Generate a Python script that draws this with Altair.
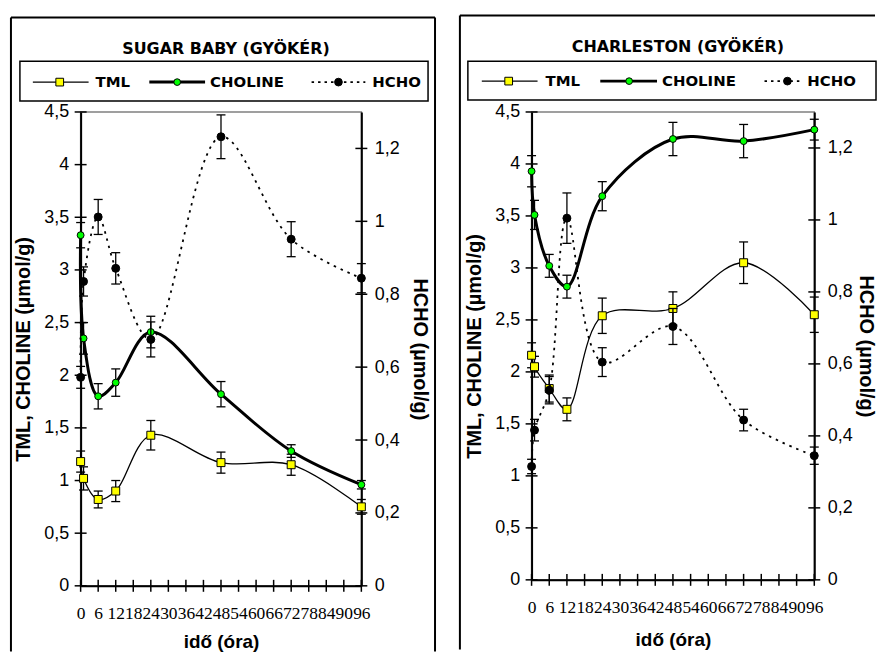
import altair as alt
import pandas as pd

# ---------------- data ----------------
TIME = [0, 1, 6, 12, 24, 48, 72, 96]
X_TICKS = list(range(0, 97, 6))
LEFT_TICKS = [0, 0.5, 1, 1.5, 2, 2.5, 3, 3.5, 4, 4.5]
RIGHT_TICKS = [0, 0.2, 0.4, 0.6, 0.8, 1, 1.2]
SERIES = ["TML", "CHOLINE", "HCHO"]

# SUGAR BABY (GYÖKÉR)
SB_TML = [1.18, 1.02, 0.82, 0.90, 1.43, 1.17, 1.15, 0.75]
SB_TML_ERR = [0.10, 0.11, 0.08, 0.10, 0.14, 0.10, 0.10, 0.07]
SB_CHO = [3.33, 2.35, 1.80, 1.93, 2.41, 1.82, 1.28, 0.96]
SB_CHO_ERR = [0.12, 0.15, 0.12, 0.13, 0.15, 0.12, 0.06, 0.04]
SB_HCHO = [0.572, 0.835, 1.012, 0.871, 0.676, 1.232, 0.951, 0.844]
SB_HCHO_ERR = [0.03, 0.04, 0.048, 0.043, 0.048, 0.06, 0.048, 0.04]

# CHARLESTON (GYÖKÉR)
CH_TML = [2.16, 2.05, 1.84, 1.64, 2.54, 2.61, 3.05, 2.55]
CH_TML_ERR = [0.12, 0.10, 0.13, 0.11, 0.17, 0.16, 0.20, 0.17]
CH_CHO = [3.93, 3.51, 3.02, 2.82, 3.69, 4.24, 4.22, 4.33]
CH_CHO_ERR = [0.15, 0.14, 0.11, 0.11, 0.14, 0.16, 0.16, 0.10]
CH_HCHO = [0.315, 0.416, 0.527, 1.005, 0.605, 0.704, 0.444, 0.345]
CH_HCHO_ERR = [0.02, 0.03, 0.038, 0.07, 0.04, 0.05, 0.03, 0.024]

SANS = "Liberation Sans"
SERIF = "Liberation Serif"
LEG_FONT = "DejaVu Sans"


def series_df(vals, errs):
    return pd.DataFrame({
        "time": TIME,
        "value": vals,
        "lo": [v - e for v, e in zip(vals, errs)],
        "hi": [v + e for v, e in zip(vals, errs)],
    })


ONE = pd.DataFrame({"k": [0]})


def vrule(x, y1, y2, sw=2):
    return alt.Chart(ONE).mark_rule(color="black", strokeWidth=sw).encode(
        x=alt.value(x), y=alt.value(y1), y2=alt.value(y2))


def hrule(x1, x2, y, sw=2):
    return alt.Chart(ONE).mark_rule(color="black", strokeWidth=sw).encode(
        x=alt.value(x1), x2=alt.value(x2), y=alt.value(y))


def panel(title, tml, tml_e, cho, cho_e, hcho, hcho_e, w, h, geo):
    xs = alt.Scale(domain=[0, 96], nice=False, zero=False)
    ysl = alt.Scale(domain=[0, 4.5], nice=False)
    ysr = alt.Scale(domain=[0, 1.3], nice=False)

    xaxis = alt.Axis(values=X_TICKS, title="idő (óra)", labelFont=SERIF,
                     labelFontSize=17.5, labelPadding=19, labelOverlap=False,
                     labelFlush=False, titleFont=SANS, titleFontSize=19,
                     titleFontWeight="bold", titlePadding=geo["xtpad"],
                     ticks=False)
    yaxl = alt.Axis(values=LEFT_TICKS, format="~g",
                    labelExpr="replace(datum.label, '.', ',')",
                    title="TML, CHOLINE (µmol/g)", labelFont=SANS,
                    labelFontSize=18, labelPadding=12, titleFont=SANS,
                    titleFontSize=20, titleFontWeight="bold",
                    titlePadding=geo["ltpad"], ticks=False)
    yaxr = alt.Axis(values=RIGHT_TICKS, format="~g", orient="right",
                    labelExpr="replace(datum.label, '.', ',')",
                    title="HCHO (µmol/g)", labelFont=SANS, labelFontSize=18,
                    labelPadding=13, titleFont=SANS, titleFontSize=20,
                    titleFontWeight="bold", titlePadding=geo["rtpad"],
                    ticks=False)

    X = lambda f: alt.X(f, type="quantitative", scale=xs, axis=xaxis)

    d_tml = series_df(tml, tml_e)
    d_cho = series_df(cho, cho_e)
    d_hcho = series_df(hcho, hcho_e)
    d_ticks_l = pd.DataFrame({"v": LEFT_TICKS})
    d_ticks_r = pd.DataFrame({"v": RIGHT_TICKS})
    d_ticks_x = pd.DataFrame({"v": X_TICKS})

    def errbars(d, yscale, yaxis):
        Y = lambda f: alt.Y(f, type="quantitative", scale=yscale, axis=yaxis)
        base = alt.Chart(d)
        bar = base.mark_rule(color="black", strokeWidth=1.3).encode(
            x=X("time"), y=Y("lo"), y2="hi")
        cap_lo = base.mark_rule(color="black", strokeWidth=1.3,
                                xOffset=-4.5, x2Offset=4.5).encode(
            x=X("time"), x2="time", y=Y("lo"))
        cap_hi = base.mark_rule(color="black", strokeWidth=1.3,
                                xOffset=-4.5, x2Offset=4.5).encode(
            x=X("time"), x2="time", y=Y("hi"))
        return [bar, cap_lo, cap_hi]

    YL = lambda f: alt.Y(f, type="quantitative", scale=ysl, axis=yaxl)
    YR = lambda f: alt.Y(f, type="quantitative", scale=ysr, axis=yaxr)

    # decorative frame (open at the bottom, like the cropped original)
    fl, fr, ft, fb = geo["frame"]
    frame = [vrule(fl, ft, fb), hrule(fl, fr, ft)]
    if geo.get("frame_right", True):
        frame.append(vrule(fr, ft, fb))

    ttl = alt.Chart(ONE).mark_text(
        align="center", baseline="middle", font=LEG_FONT, fontSize=16,
        fontWeight="bold", color="black").encode(
        x=alt.value(w / 2 + geo["tdx"]), y=alt.value(geo["ty"]),
        text=alt.value(title))
    lb = geo["lbox"]
    legbox = alt.Chart(ONE).mark_rect(filled=False, stroke="black",
                                      strokeWidth=1.5).encode(
        x=alt.value(lb[0]), x2=alt.value(lb[1]),
        y=alt.value(lb[2]), y2=alt.value(lb[3]))

    ly = geo["ly"]
    leg = []
    styles = {
        "TML": dict(line=dict(strokeWidth=1.3),
                    pt=dict(shape="square", fill="#FFFF00", size=60)),
        "CHOLINE": dict(line=dict(strokeWidth=3),
                        pt=dict(shape="circle", fill="#00FF00", size=45)),
        "HCHO": dict(line=dict(strokeWidth=1.8, strokeDash=[2.5, 4]),
                     pt=dict(shape="circle", fill="black", size=60)),
    }
    for name in SERIES:
        g = geo["leg"][name]
        st = styles[name]
        leg.append(alt.Chart(ONE).mark_rule(color="black", **st["line"]).encode(
            x=alt.value(g[0]), x2=alt.value(g[1]), y=alt.value(ly)))
        leg.append(alt.Chart(ONE).mark_point(filled=True, stroke="black",
                                             strokeWidth=1, opacity=1,
                                             **st["pt"]).encode(
            x=alt.value(g[2]), y=alt.value(ly)))
        leg.append(alt.Chart(ONE).mark_text(
            align="left", baseline="middle", font=LEG_FONT, fontSize=15,
            fontWeight="bold", color="black").encode(
            x=alt.value(g[3]), y=alt.value(ly), text=alt.value(name)))

    # left-axis group
    tml_line = alt.Chart(d_tml).mark_line(
        interpolate="catmull-rom", color="black", strokeWidth=1.3).encode(
        x=X("time"), y=YL("value"))
    cho_line = alt.Chart(d_cho).mark_line(
        interpolate="catmull-rom", color="black", strokeWidth=3).encode(
        x=X("time"), y=YL("value"))
    tml_pts = alt.Chart(d_tml).mark_point(
        shape="square", filled=True, fill="#FFFF00", stroke="black",
        strokeWidth=1, size=64, opacity=1).encode(x=X("time"), y=YL("value"))
    cho_pts = alt.Chart(d_cho).mark_point(
        shape="circle", filled=True, fill="#00FF00", stroke="black",
        strokeWidth=1, size=48, opacity=1).encode(x=X("time"), y=YL("value"))
    lticks = alt.Chart(d_ticks_l).mark_rule(color="black", strokeWidth=1.5).encode(
        x=alt.value(-6), x2=alt.value(6), y=YL("v"))
    xticks = alt.Chart(d_ticks_x).mark_rule(color="black", strokeWidth=1.5).encode(
        x=X("v"), y=alt.value(h - 6), y2=alt.value(h + 6))

    group_l = alt.layer(
        *frame, ttl, legbox, *leg, lticks, xticks,
        *errbars(d_tml, ysl, yaxl), *errbars(d_cho, ysl, yaxl),
        tml_line, cho_line, tml_pts, cho_pts)

    # right-axis group
    hcho_line = alt.Chart(d_hcho).mark_line(
        interpolate="catmull-rom", color="black", strokeWidth=1.8,
        strokeDash=[2.5, 5]).encode(x=X("time"), y=YR("value"))
    hcho_pts = alt.Chart(d_hcho).mark_point(
        shape="circle", filled=True, fill="black", stroke="black",
        strokeWidth=1, size=64, opacity=1).encode(x=X("time"), y=YR("value"))
    rticks = alt.Chart(d_ticks_r).mark_rule(color="black", strokeWidth=1.5).encode(
        x=alt.value(w - 6), x2=alt.value(w + 6), y=YR("v"))

    group_r = alt.layer(rticks, *errbars(d_hcho, ysr, yaxr), hcho_line, hcho_pts)

    return alt.layer(group_l, group_r).resolve_scale(y="independent").properties(
        width=w, height=h)


# panel geometry (pixels relative to each plot area)
geo_left = dict(
    frame=(-70, 282 + 74, -95, 650 - 108),
    lbox=(-61, 349, -51, -11), ly=-30,
    leg={"TML": (-48, 8, -21, 15), "CHOLINE": (69, 125, 97, 130),
         "HCHO": (232, 286, 259, 293)},
    ty=-63, tdx=5, xtpad=10, ltpad=10, rtpad=10)
geo_right = dict(
    frame=(-72, 876 - 531, -97, 650 - 110), frame_right=False,
    lbox=(-64, 346, -51, -12), ly=-31,
    leg={"TML": (-50, 6, -23, 14), "CHOLINE": (69, 126, 98, 131),
         "HCHO": (234, 272, 257, 277)},
    ty=-65, tdx=5, xtpad=14, ltpad=10, rtpad=3)

left = panel("SUGAR BABY (GYÖKÉR)", SB_TML, SB_TML_ERR, SB_CHO, SB_CHO_ERR,
             SB_HCHO, SB_HCHO_ERR, 282, 476, geo_left)
right = panel("CHARLESTON (GYÖKÉR)", CH_TML, CH_TML_ERR, CH_CHO, CH_CHO_ERR,
              CH_HCHO, CH_HCHO_ERR, 284, 470, geo_right)

chart = alt.hconcat(left, right, spacing=21).properties(
    padding={"left": 9, "top": 12, "right": 0, "bottom": 0},
    background="white",
).configure_view(
    stroke="#808080", strokeWidth=1.5
).configure_axis(
    domainColor="black", domainWidth=2, grid=False, labelColor="black",
    titleColor="black"
)

chart.save("out.html", embed_options={"renderer": "svg", "actions": False})
